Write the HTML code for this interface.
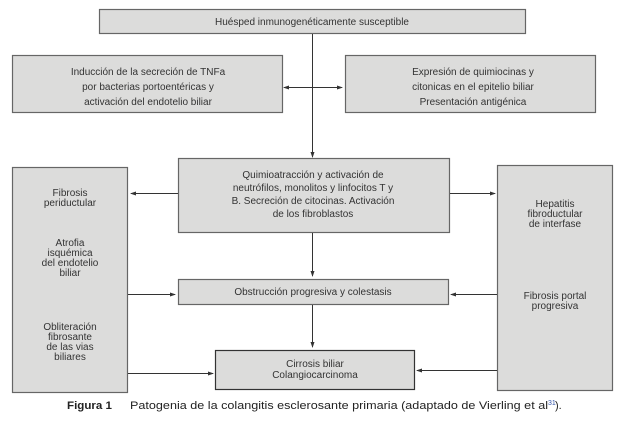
<!DOCTYPE html>
<html><head><meta charset="utf-8"><style>
html,body{margin:0;padding:0;background:#fff;width:636px;height:431px;overflow:hidden}
svg text{font-family:"Liberation Sans",sans-serif;fill:#333;font-size:10px}
</style></head><body>
<svg width="636" height="431" viewBox="0 0 636 431" xmlns="http://www.w3.org/2000/svg">
<defs><marker id="a" markerWidth="6" markerHeight="6" refX="5" refY="3" orient="auto" markerUnits="userSpaceOnUse"><path d="M0,1 L6,3 L0,5 Z" fill="#333"/></marker></defs>
<g fill="#dcdcdb" stroke="#666" stroke-width="1.2">
<rect x="99.5" y="9.5" width="426" height="24"/>
<rect x="12.5" y="55.5" width="270" height="57"/>
<rect x="345.5" y="55.5" width="250" height="57"/>
<rect x="178.5" y="158.5" width="271" height="74"/>
<rect x="12.5" y="167.5" width="115" height="225"/>
<rect x="497.5" y="165.5" width="115" height="225"/>
<rect x="178.5" y="279.5" width="270" height="25"/>
<rect x="215.5" y="350.5" width="199" height="39" stroke="#333"/>
</g>
<g stroke="#333" stroke-width="1" fill="none">
<line x1="312.5" y1="34" x2="312.5" y2="157" marker-end="url(#a)"/>
<line x1="312" y1="87.5" x2="284" y2="87.5" marker-end="url(#a)"/>
<line x1="312" y1="87.5" x2="342" y2="87.5" marker-end="url(#a)"/>
<line x1="178" y1="193.5" x2="131" y2="193.5" marker-end="url(#a)"/>
<line x1="450" y1="193.5" x2="495" y2="193.5" marker-end="url(#a)"/>
<line x1="312.5" y1="233" x2="312.5" y2="276" marker-end="url(#a)"/>
<line x1="128" y1="294.5" x2="175" y2="294.5" marker-end="url(#a)"/>
<line x1="497" y1="294.5" x2="451" y2="294.5" marker-end="url(#a)"/>
<line x1="312.5" y1="305" x2="312.5" y2="347" marker-end="url(#a)"/>
<line x1="128" y1="373.5" x2="213" y2="373.5" marker-end="url(#a)"/>
<line x1="497" y1="370.5" x2="417" y2="370.5" marker-end="url(#a)"/>
</g>
<g text-anchor="middle">
<text x="312" y="25">Huésped inmunogenéticamente susceptible</text>
<text x="148" y="75">Inducción de la secreción de TNFa</text>
<text x="148" y="90">por bacterias portoentéricas y</text>
<text x="148" y="105">activación del endotelio biliar</text>
<text x="473" y="75">Expresión de quimiocinas y</text>
<text x="473" y="90">citonicas en el epitelio biliar</text>
<text x="473" y="105">Presentación antigénica</text>
<text x="313" y="178">Quimioatracción y activación de</text>
<text x="313" y="191">neutrófilos, monolitos y linfocitos T y</text>
<text x="313" y="204">B. Secreción de citocinas. Activación</text>
<text x="313" y="217">de los fibroblastos</text>
<text x="70" y="196">Fibrosis</text>
<text x="70" y="206">periductular</text>
<text x="70" y="246">Atrofia</text>
<text x="70" y="256">isquémica</text>
<text x="70" y="266">del endotelio</text>
<text x="70" y="276">biliar</text>
<text x="70" y="330">Obliteración</text>
<text x="70" y="340">fibrosante</text>
<text x="70" y="350">de las vias</text>
<text x="70" y="360">biliares</text>
<text x="555" y="207">Hepatitis</text>
<text x="555" y="217">fibroductular</text>
<text x="555" y="227">de interfase</text>
<text x="555" y="299">Fibrosis portal</text>
<text x="555" y="309">progresiva</text>
<text x="313" y="295">Obstrucción progresiva y colestasis</text>
<text x="315" y="367">Cirrosis biliar</text>
<text x="315" y="378">Colangiocarcinoma</text>
</g>
<text x="67" y="409" textLength="45" lengthAdjust="spacingAndGlyphs" style="font-weight:bold;font-size:11px;fill:#222">Figura 1</text>
<text x="130" y="409" textLength="418" lengthAdjust="spacingAndGlyphs" style="font-size:11px;fill:#222">Patogenia de la colangitis esclerosante primaria (adaptado de Vierling et al</text>
<text x="548" y="405" style="font-size:7px;fill:#3355aa">31</text>
<text x="555" y="409" style="font-size:11px;fill:#222">).</text>
</svg>
</body></html>
